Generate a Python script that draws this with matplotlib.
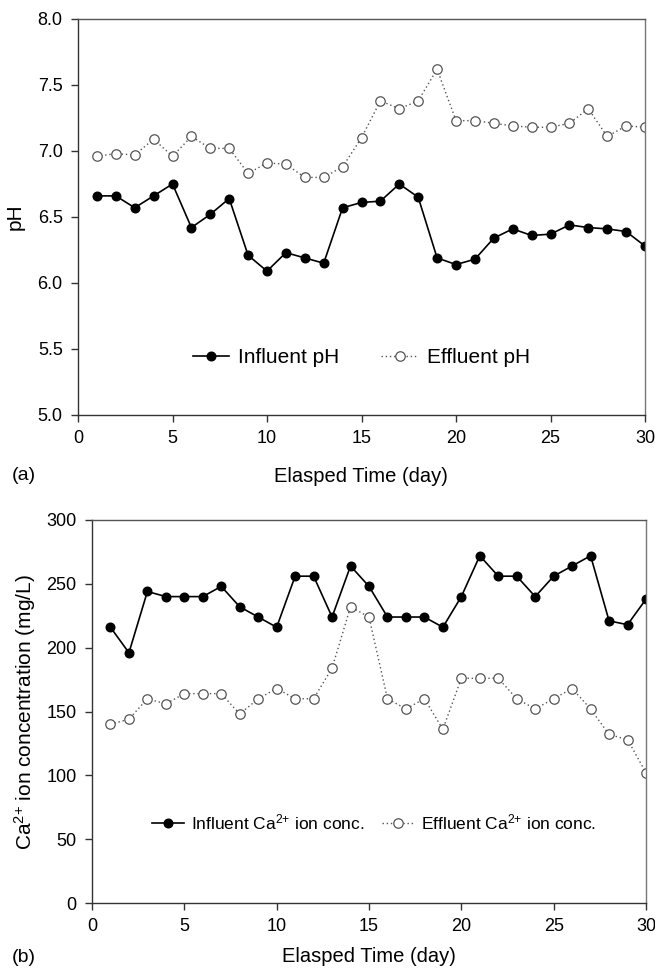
import matplotlib
matplotlib.use("Agg")
import matplotlib.pyplot as plt
from matplotlib.ticker import MultipleLocator, FormatStrFormatter

plt.rcParams['font.family'] = ['Liberation Sans', 'DejaVu Sans']
plt.rcParams['mathtext.fontset'] = 'custom'
plt.rcParams['mathtext.rm'] = 'Liberation Sans'
plt.rcParams['mathtext.it'] = 'Liberation Sans:italic'
plt.rcParams['mathtext.bf'] = 'Liberation Sans:bold'

days = list(range(1, 31))
influent_ph = [6.66, 6.66, 6.57, 6.66, 6.75, 6.42, 6.52, 6.64, 6.21, 6.09,
               6.23, 6.19, 6.15, 6.57, 6.61, 6.62, 6.75, 6.65, 6.19, 6.14,
               6.18, 6.34, 6.41, 6.36, 6.37, 6.44, 6.42, 6.41, 6.39, 6.28]
effluent_ph = [6.96, 6.98, 6.97, 7.09, 6.96, 7.11, 7.02, 7.02, 6.83, 6.91,
               6.90, 6.80, 6.80, 6.88, 7.10, 7.38, 7.32, 7.38, 7.62, 7.23,
               7.23, 7.21, 7.19, 7.18, 7.18, 7.21, 7.32, 7.11, 7.19, 7.18]
influent_ca = [216, 196, 244, 240, 240, 240, 248, 232, 224, 216,
               256, 256, 224, 264, 248, 224, 224, 224, 216, 240,
               272, 256, 256, 240, 256, 264, 272, 221, 218, 238]
effluent_ca = [140, 144, 160, 156, 164, 164, 164, 148, 160, 168,
               160, 160, 184, 232, 224, 160, 152, 160, 136, 176,
               176, 176, 160, 152, 160, 168, 152, 132, 128, 102]

CA = r'Ca$^{\mathregular{2{+}}}$'

W, H = 655, 968
fig = plt.figure(figsize=(W / 100, H / 100), dpi=100)

def box(l, t, r, b):
    return [l / W, 1 - b / H, (r - l) / W, (b - t) / H]

def fig_xy(x, y):
    return x / W, 1 - y / H

ax1 = fig.add_axes(box(78, 19, 645, 415))
ax2 = fig.add_axes(box(92, 520, 646, 903))

inf_style = dict(color='black', lw=1.2, marker='o', ms=6.2, mfc='black', mec='black')
eff_style = dict(color='#555555', lw=1.0, ls=(0, (1, 2)), marker='o', ms=6.8,
                 mfc='white', mec='#555555', mew=0.9)

# ---- panel (a)
ax1.plot(days, influent_ph, label='Influent pH', **inf_style)
ax1.plot(days, effluent_ph, label='Effluent pH', **eff_style)
ax1.set_xlim(0, 30)
ax1.set_ylim(5.0, 8.0)
ax1.xaxis.set_major_locator(MultipleLocator(5))
ax1.yaxis.set_major_locator(MultipleLocator(0.5))
ax1.yaxis.set_major_formatter(FormatStrFormatter('%.1f'))
ax1.set_ylabel('pH', fontsize=15, va='center')
ax1.yaxis.set_label_coords(*fig_xy(15, 217), transform=fig.transFigure)
ax1.set_xlabel('Elasped Time (day)', fontsize=14.5, va='center')
ax1.xaxis.set_label_coords(*fig_xy(361, 476), transform=fig.transFigure)
ax1.legend(loc='center', bbox_to_anchor=(0.5, 1 - (358 - 19) / (415 - 19)), ncol=2,
           frameon=False, fontsize=15, handlelength=1.75, columnspacing=2.0,
           handletextpad=0.45)
fig.text(*fig_xy(12, 475), '(a)', fontsize=14, va='center', ha='left')

# ---- panel (b)
ax2.plot(days, influent_ca, label='Influent ' + CA + ' ion conc.', **inf_style)
ax2.plot(days, effluent_ca, label='Effluent ' + CA + ' ion conc.', **eff_style)
ax2.set_xlim(0, 30)
ax2.set_ylim(0, 300)
ax2.xaxis.set_major_locator(MultipleLocator(5))
ax2.yaxis.set_major_locator(MultipleLocator(50))
ax2.set_ylabel(CA + ' ion concentration (mg/L)', fontsize=15, va='center')
ax2.yaxis.set_label_coords(*fig_xy(25, 712), transform=fig.transFigure)
ax2.set_xlabel('Elasped Time (day)', fontsize=14.5, va='center')
ax2.xaxis.set_label_coords(*fig_xy(369, 956), transform=fig.transFigure)
ax2.legend(loc='center', bbox_to_anchor=(0.5 + 5 / 554, 1 - (822 - 520) / (903 - 520)),
           ncol=2, frameon=False, fontsize=12.5, handlelength=1.85,
           columnspacing=1.0, handletextpad=0.4)
fig.text(*fig_xy(12, 958), '(b)', fontsize=14, va='center', ha='left')

for ax in (ax1, ax2):
    ax.tick_params(direction='out', length=5, width=1, labelsize=13, pad=6, color='#333333')
    for s in ax.spines.values():
        s.set_color('#333333')
        s.set_linewidth(1.0)
    ax.spines['right'].set_color('#777777')
    ax.spines['top'].set_color('#555555')

fig.savefig('out.png', dpi=100)
